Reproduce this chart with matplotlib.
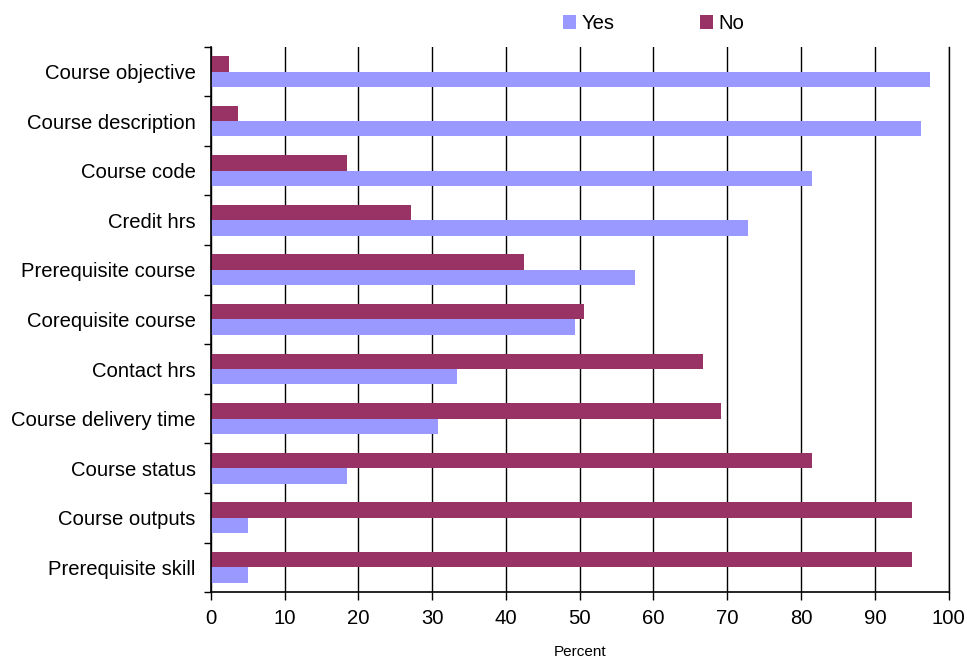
import numpy as np
import matplotlib.pyplot as plt
from matplotlib.ticker import FixedLocator, MultipleLocator

plt.rcParams['font.family'] = ['Liberation Sans', 'DejaVu Sans']

# data, top to bottom as in the chart
categories = ['Course objective', 'Course description', 'Course code', 'Credit hrs',
              'Prerequisite course', 'Corequisite course', 'Contact hrs',
              'Course delivery time', 'Course status', 'Course outputs',
              'Prerequisite skill']
yes_pct = [97.5, 96.3, 81.5, 72.8, 57.5, 49.4, 33.3, 30.8, 18.5, 5.0, 5.0]
no_pct = [2.5, 3.7, 18.5, 27.2, 42.5, 50.6, 66.7, 69.2, 81.5, 95.0, 95.0]

yes_color = '#9999FF'
no_color = '#993366'

fig = plt.figure(figsize=(9.67, 6.58), dpi=100)
ax = fig.add_axes([0.218, 0.100, 0.763, 0.829])

n = len(categories)
y = np.arange(n)[::-1]  # first category at top
h = 0.31

ax.barh(y - h / 2, yes_pct, height=h, color=yes_color, label='Yes', zorder=2)
ax.barh(y + h / 2, no_pct, height=h, color=no_color, label='No', zorder=2)

ax.set_xlim(0, 100)
ax.set_ylim(-0.5, n - 0.5)
ax.xaxis.set_major_locator(MultipleLocator(10))
ax.set_yticks(y)
ax.set_yticklabels(categories, fontsize=14.6)
ax.yaxis.set_minor_locator(FixedLocator(np.arange(-0.5, n, 1.0)))
ax.tick_params(axis='y', which='major', length=0, pad=11)
ax.tick_params(axis='y', which='minor', length=5, width=1, direction='out')
ax.tick_params(axis='x', labelsize=14.6, length=6, width=1, direction='out', pad=6)

ax.grid(axis='x', color='black', linewidth=1, zorder=0)
ax.axvline(100, color='black', linewidth=1, clip_on=False, zorder=0)
for s in ['top', 'right']:
    ax.spines[s].set_visible(False)
for s in ['left', 'bottom']:
    ax.spines[s].set_linewidth(1.2)

ax.set_xlabel('Percent', fontsize=11, labelpad=12)

fig.legend(loc='center left', bbox_to_anchor=(0.574, 0.964), ncol=2, frameon=False,
           fontsize=14.6, handlelength=0.62, handleheight=0.62, columnspacing=4.2,
           handletextpad=0.3, borderaxespad=0)

plt.savefig('out.png', dpi=100)
